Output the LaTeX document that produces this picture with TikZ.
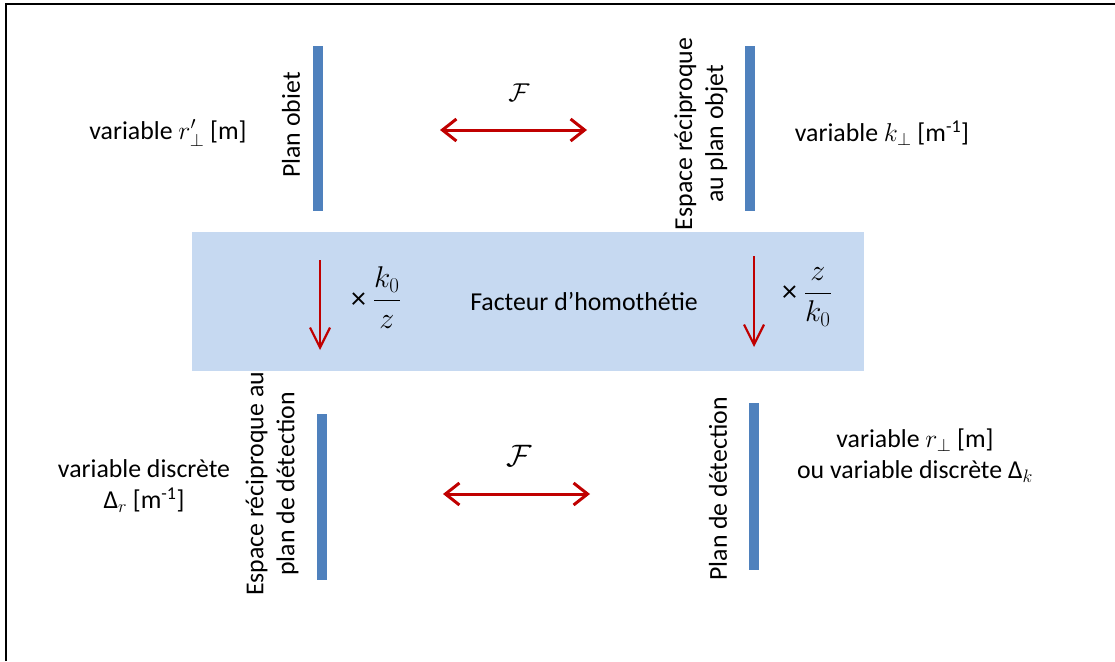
\RequirePackage{fix-cm}
\documentclass[tikz,border=0pt]{standalone}
\usepackage{amsmath}
\usepackage{fontspec}
\setmainfont{Carlito}
\usetikzlibrary{arrows.meta}
\definecolor{barblue}{HTML}{4F81BD}
\definecolor{boxblue}{HTML}{C6D9F1}
\definecolor{arrred}{HTML}{C00000}
\begin{document}
\begin{tikzpicture}[x=1pt,y=-1pt,
  bar/.style={fill=barblue, draw=none, inner sep=0pt, minimum width=10pt, anchor=north},
  lbl/.style={font=\fontsize{25.8}{31}\selectfont, inner sep=0pt, align=center},
  rlbl/.style={lbl, rotate=90},
  farrow/.style={draw=arrred, line width=3pt, {Straight Barb[length=14pt,width=22pt]}-{Straight Barb[length=14pt,width=22pt]}},
  darrow/.style={draw=arrred, line width=2.2pt, -{Straight Barb[length=20pt,width=20pt]}}]
\useasboundingbox (0,0) rectangle (1115,661);
\coordinate (fbl) at (6,661);
\coordinate (ftl) at (6,4);
\coordinate (ftr) at (1115,4);
\draw[line width=2pt] (fbl) -- (ftl) -- (ftr);
% light blue band
\node[fill=boxblue, minimum width=672pt, minimum height=139pt, inner sep=0pt, anchor=north west] (box) at (192,232) {};
% bars
\node[bar, minimum height=165pt] (b1) at (318,46) {};
\node[bar, minimum height=165pt] (b2) at (750,46) {};
\node[bar, minimum height=166pt] (b3) at (322,414) {};
\node[bar, minimum height=167pt] (b4) at (754,403) {};
% labels of bars
\node[rlbl] (t1) at (291,125) {Plan obiet};
\node[rlbl] (t2) at (701,134) {Espace réciproque\\au plan objet};
\node[rlbl] (t3) at (272,484) {Espace réciproque au\\plan de détection};
\node[rlbl] (t4) at (718,489) {Plan de détection};
% variables
\node[lbl] (v1) at (168,133) {variable $r'_\perp$ [m]};
\node[lbl] (v2) at (882,133) {variable $k_\perp$ [m\textsuperscript{-1}]};
\node[lbl] (v3) at (144,486) {variable discrète\\Δ$_r$ [m\textsuperscript{-1}]};
\node[lbl] (v4) at (915,456) {variable $r_\perp$ [m]\\ou variable discrète Δ$_k$};
% Fourier arrows
\coordinate (a1l) at (440,130);
\coordinate (a1r) at (587,130);
\draw[farrow] (a1l) -- (a1r);
\node[lbl] (F1) at (519,93) {$\mathcal{F}$};
\coordinate (a2l) at (443,494);
\coordinate (a2r) at (590,494);
\draw[farrow] (a2l) -- (a2r);
\node[lbl, font=\fontsize{31}{31}\selectfont] (F2) at (519,456) {$\mathcal{F}$};
% scaling arrows
\coordinate (d1s) at (320,260);
\coordinate (d1e) at (320,350);
\draw[darrow] (d1s) -- (d1e);
\coordinate (d2s) at (754,256);
\coordinate (d2e) at (754,347);
\draw[darrow] (d2s) -- (d2e);
\node[lbl, font=\fontsize{30}{31}\selectfont] (m1) at (376,298) {× $\dfrac{k_0}{z}$};
\node[lbl, font=\fontsize{30}{31}\selectfont] (m2) at (807,297) {× $\dfrac{z}{k_0}$};
\node[lbl] (fh) at (584,301) {Facteur d’homothétie};
\end{tikzpicture}
\end{document}
